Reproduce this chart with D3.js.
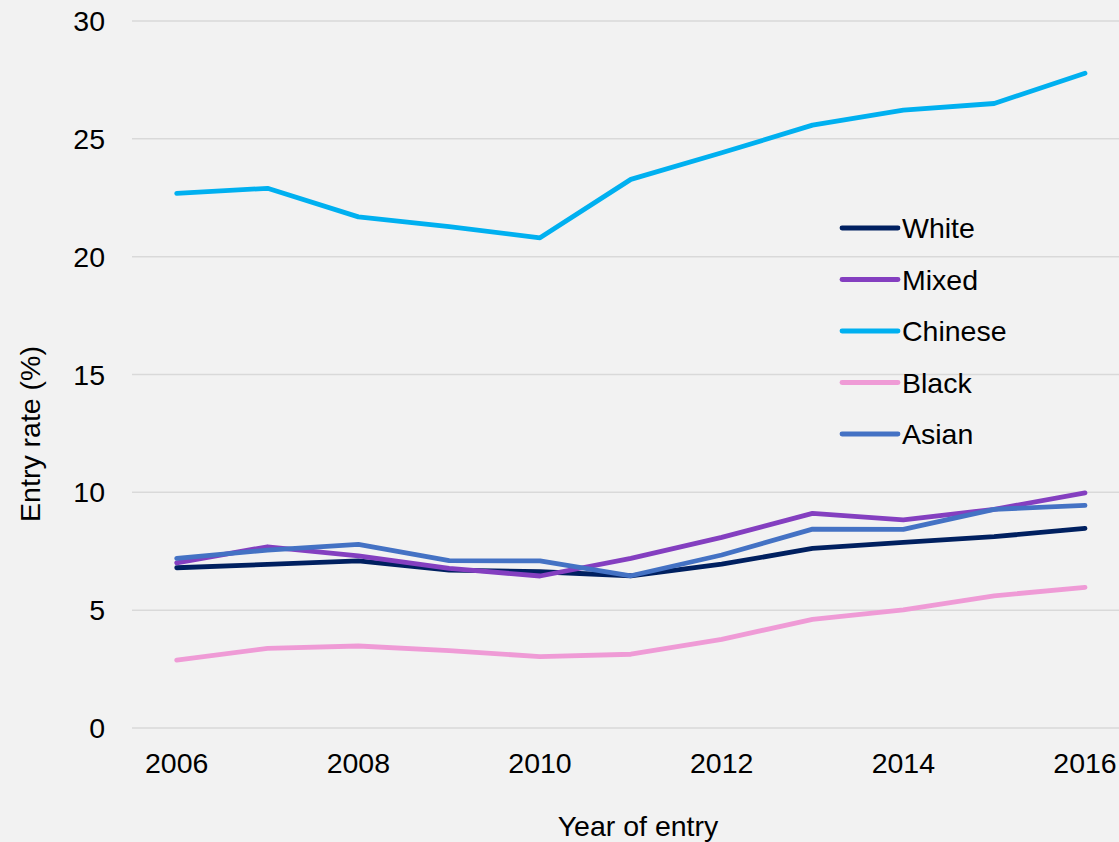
<!DOCTYPE html>
<html>
<head>
<meta charset="utf-8">
<script src="https://cdn.jsdelivr.net/npm/d3@7"></script>
<style>
  body { margin: 0; background: #f2f2f2; }
  svg { display: block; }
  text { font-family: "Liberation Sans", Arial, sans-serif; fill: #000; }
</style>
</head>
<body>
<div id="my_dataviz"></div>
<script>
// data
var years = [2006, 2007, 2008, 2009, 2010, 2011, 2012, 2013, 2014, 2015, 2016];
var white   = [6.80, 6.94, 7.09, 6.70, 6.63, 6.46, 6.95, 7.62, 7.88, 8.12, 8.47];
var mixed   = [7.01, 7.69, 7.30, 6.77, 6.45, 7.20, 8.09, 9.11, 8.83, 9.28, 9.98];
var chinese = [22.69, 22.90, 21.69, 21.27, 20.80, 23.28, 24.41, 25.58, 26.22, 26.50, 27.78];
var black   = [2.88, 3.38, 3.48, 3.28, 3.03, 3.13, 3.76, 4.61, 5.01, 5.61, 5.97];
var asian   = [7.20, 7.55, 7.79, 7.10, 7.09, 6.46, 7.34, 8.44, 8.43, 9.28, 9.45];
var groups  = ["White", "Mixed", "Chinese", "Black", "Asian"];
var colors  = ["#002060", "#843fc0", "#00b0f0", "#ef9bd6", "#4472c4"];
var yTicks  = [0, 5, 10, 15, 20, 25, 30];
var xTicks  = [2006, 2008, 2010, 2012, 2014, 2016];

var seriesVals = [white, mixed, chinese, black, asian];

// set the dimensions and margins of the graph
var margin = { top: 21, right: 0, bottom: 114, left: 132 },
    width = 1119 - margin.left - margin.right,
    height = 842 - margin.top - margin.bottom;

var fontSize = "28.5px";

var svg = d3.select("#my_dataviz")
    .append("svg")
    .attr("width", width + margin.left + margin.right)
    .attr("height", height + margin.top + margin.bottom)
    .append("g")
    .attr("transform", "translate(" + margin.left + "," + margin.top + ")");

var dataReady = groups.map(function (name, i) {
    return {
        name: name,
        values: years.map(function (yr, j) { return { year: yr, value: seriesVals[i][j] }; })
    };
});

var myColor = d3.scaleOrdinal().domain(groups).range(colors);

var x = d3.scaleLinear().domain([2006, 2016]).range([44.7, 953]);
var y = d3.scaleLinear().domain([0, 30]).range([height, 0]);

// gridlines
svg.append("g")
    .selectAll("line")
    .data(yTicks)
    .enter()
    .append("line")
    .attr("x1", 0)
    .attr("x2", width)
    .attr("y1", function (d) { return y(d); })
    .attr("y2", function (d) { return y(d); })
    .attr("stroke", "#d9d9d9")
    .attr("stroke-width", 1.5);

// Y tick labels
svg.append("g")
    .selectAll("text")
    .data(yTicks)
    .enter()
    .append("text")
    .attr("x", -27)
    .attr("y", function (d) { return y(d) + 10; })
    .attr("text-anchor", "end")
    .style("font-size", fontSize)
    .text(function (d) { return d; });

// X tick labels
svg.append("g")
    .selectAll("text")
    .data(xTicks)
    .enter()
    .append("text")
    .attr("x", function (d) { return x(d); })
    .attr("y", height + 45)
    .attr("text-anchor", "middle")
    .style("font-size", fontSize)
    .text(function (d) { return d; });

// axis titles
svg.append("text")
    .attr("x", 638 - margin.left)
    .attr("y", height + 108)
    .attr("text-anchor", "middle")
    .style("font-size", fontSize)
    .text("Year of entry");

svg.append("text")
    .attr("transform", "translate(" + (40 - margin.left) + "," + (434 - margin.top) + ") rotate(-90)")
    .attr("text-anchor", "middle")
    .style("font-size", fontSize)
    .text("Entry rate (%)");

// the lines
var line = d3.line()
    .x(function (d) { return x(d.year); })
    .y(function (d) { return y(d.value); });

svg.selectAll("myLines")
    .data(dataReady)
    .enter()
    .append("path")
    .attr("d", function (d) { return line(d.values); })
    .attr("stroke", function (d) { return myColor(d.name); })
    .style("stroke-width", 4.8)
    .style("stroke-linecap", "round")
    .style("stroke-linejoin", "round")
    .style("fill", "none");

// legend
var legend = svg.selectAll("myLegend")
    .data(groups)
    .enter()
    .append("g")
    .attr("transform", function (d, i) { return "translate(" + (842 - margin.left) + "," + (228 - margin.top + i * 51.5) + ")"; });

legend.append("line")
    .attr("x1", 0)
    .attr("x2", 56)
    .attr("stroke", function (d) { return myColor(d); })
    .attr("stroke-width", 4.8)
    .attr("stroke-linecap", "round");

legend.append("text")
    .attr("x", 60)
    .attr("y", 10)
    .style("font-size", fontSize)
    .text(function (d) { return d; });
</script>
</body>
</html>
